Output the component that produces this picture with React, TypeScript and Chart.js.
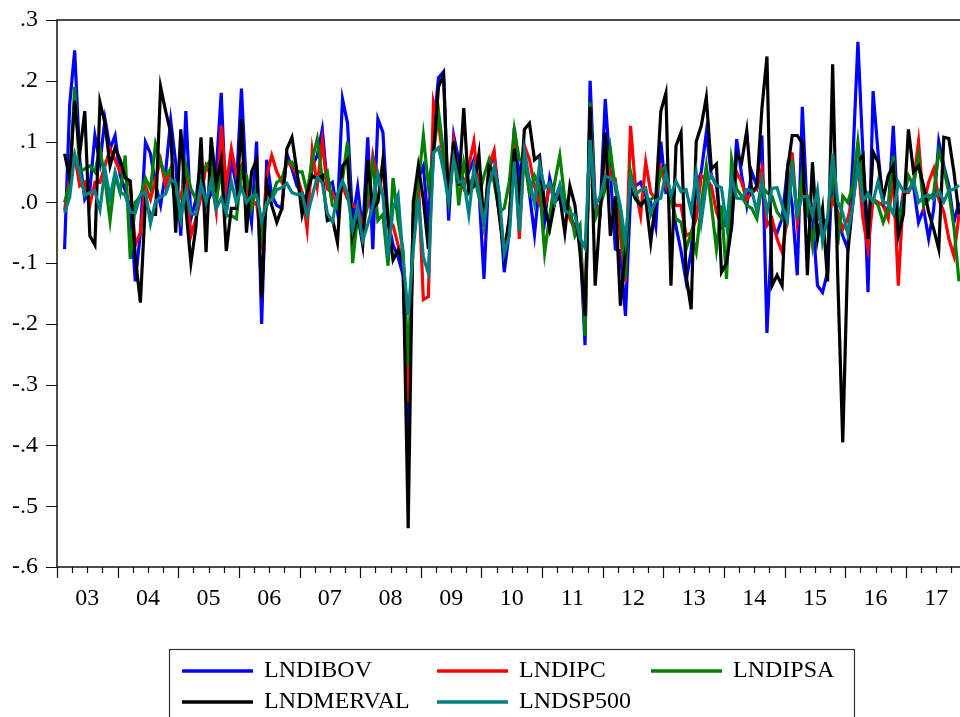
import React, { useEffect, useRef } from "react";
import { Chart, registerables } from "chart.js";

Chart.register(...registerables);

// ---------- data (monthly log-differences, 2003M02 .. 2017M11) ----------
const START_YEAR = 2003;
const FIRST_MONTH = 1; // 0 = January, so first observation is 2003M02
const AXIS_MONTHS = 179; // axis runs from start of 2003M01 to end of 2017M11

const yearLabels = ["03", "04", "05", "06", "07", "08", "09", "10", "11", "12", "13", "14", "15", "16", "17"];
const yTickValues = [-0.6, -0.5, -0.4, -0.3, -0.2, -0.1, 0, 0.1, 0.2, 0.3];

const seriesNames = ["LNDIBOV", "LNDIPC", "LNDIPSA", "LNDMERVAL", "LNDSP500"];
const seriesColors = ["#0000ff", "#ff0000", "#008000", "#000000", "#008080"];

const lndibov = [
  -0.077, 0.16, 0.25, 0.07, 0.005, 0.02, 0.11, 0.065, 0.137, 0.088, 0.11,
  0.044, 0.02, -0.01, -0.13, -0.05, 0.099, 0.08, 0.03, -0.005, 0.05, 0.135, 0.065,
  -0.055, 0.15, -0.027, 0.005, 0.07, -0.005, 0.015, 0.05, 0.18, -0.016, 0.07, 0.027,
  0.187, 0.02, -0.033, 0.1, -0.2, 0.07, 0.011, -0.005, -0.01, 0.08, 0.055, 0.027,
  0.016, -0.005, 0.06, 0.077, 0.12, 0.027, 0.033, -0.016, 0.17, 0.13, -0.03, 0.025,
  -0.05, 0.107, -0.077, 0.137, 0.115, -0.03, -0.07, -0.09, -0.12, -0.38, -0.02, 0.04,
  0.06, -0.04, 0.12, 0.205, 0.215, -0.03, 0.11, 0.07, 0.03, 0.05, 0.07, 0.02,
  -0.126, 0.055, 0.08, 0.01, -0.115, -0.05, 0.123, 0.04, 0.088, 0.015, -0.053, 0.033,
  -0.03, 0.04, 0.005, 0.027, -0.005, -0.022, -0.04, -0.06, -0.235, 0.2, 0.0, -0.016,
  0.17, 0.05, -0.077, -0.08, -0.187, 0.01, 0.027, 0.033, 0.01, 0.0, -0.04, 0.1,
  0.016, 0.016, -0.04, -0.08, -0.13, -0.08, 0.027, 0.05, 0.115, 0.044, 0.027, -0.04,
  -0.027, -0.04, 0.104, 0.044, -0.005, 0.05, 0.027, 0.11, -0.215, -0.04, -0.05, -0.027,
  0.05, -0.005, -0.12, 0.157, -0.022, -0.022, -0.137, -0.148, -0.115, 0.055, -0.027, -0.055,
  -0.077, 0.07, 0.264, 0.08, -0.148, 0.183, 0.08, -0.005, -0.016, 0.126, -0.038, 0.016,
  0.022, 0.027, -0.033, -0.011, -0.06, -0.011, 0.1, 0.06, 0.027, -0.033, 0.0,
];

const lndipc = [
  -0.013, 0.04, 0.077, 0.027, 0.033, -0.005, 0.033, 0.033, 0.06, 0.088, 0.07,
  0.05, 0.044, 0.027, -0.07, -0.05, 0.027, 0.005, 0.038, 0.07, 0.027, 0.055, -0.005,
  0.01, 0.044, -0.055, -0.027, 0.01, 0.06, 0.044, -0.014, 0.126, 0.027, 0.088, 0.044,
  0.06, 0.016, -0.005, 0.0, -0.077, 0.044, 0.077, 0.05, 0.033, 0.066, 0.06, 0.044,
  0.016, -0.044, 0.085, 0.027, 0.1, 0.022, 0.016, -0.005, 0.027, 0.005, -0.005, -0.01,
  -0.038, -0.005, 0.077, 0.038, 0.05, -0.027, -0.038, -0.07, -0.1, -0.33, -0.06, 0.04,
  -0.16, -0.155, 0.165, 0.13, 0.066, 0.027, 0.1, 0.038, 0.022, 0.06, 0.1, 0.016,
  -0.04, 0.06, 0.085, -0.016, -0.08, -0.027, 0.1, -0.06, 0.093, 0.07, 0.027, -0.005,
  -0.011, 0.027, 0.005, 0.016, -0.011, -0.027, -0.044, -0.05, -0.19, 0.15, -0.005, -0.016,
  0.093, 0.044, 0.038, -0.055, -0.13, 0.126, 0.022, -0.022, 0.066, 0.016, 0.005, 0.055,
  0.027, 0.005, -0.005, -0.005, -0.055, -0.05, -0.027, 0.044, 0.038, 0.027, -0.016, -0.038,
  -0.038, -0.005, 0.05, 0.033, 0.005, 0.016, 0.022, 0.055, -0.038, -0.027, -0.06, -0.082,
  -0.027, 0.082, -0.033, 0.027, 0.01, -0.005, -0.022, -0.038, -0.027, 0.005, -0.016, -0.044,
  -0.027, 0.005, 0.066, -0.027, -0.077, 0.005, 0.0, -0.005, -0.027, 0.044, -0.137, 0.016,
  0.016, 0.033, 0.1, -0.005, 0.033, 0.055, 0.005, -0.016, -0.06, -0.088, -0.02,
];

const lndipsa = [
  0.0, 0.03, 0.19, 0.05, 0.055, 0.06, 0.05, 0.088, 0.038, -0.03, 0.044,
  0.016, 0.077, -0.093, 0.0, 0.01, 0.04, 0.022, 0.096, 0.066, 0.044, 0.055, -0.005,
  -0.03, 0.06, 0.022, 0.005, 0.038, 0.06, 0.07, 0.005, 0.05, -0.022, -0.022, -0.027,
  0.055, 0.044, -0.01, 0.027, -0.055, -0.005, 0.01, 0.033, 0.038, 0.066, 0.066, 0.05,
  0.05, 0.016, 0.07, 0.104, 0.038, 0.05, -0.005, -0.01, 0.038, 0.1, -0.1, -0.022,
  -0.055, 0.01, 0.066, -0.03, -0.02, -0.104, 0.04, -0.03, -0.08, -0.27, -0.03, 0.03,
  0.11, 0.027, 0.08, 0.15, 0.08, -0.005, 0.1, -0.005, 0.066, 0.027, 0.044, 0.01,
  0.044, 0.07, 0.033, -0.016, -0.01, 0.033, 0.12, 0.07, 0.07, 0.016, 0.044, 0.027,
  -0.083, -0.022, 0.033, 0.077, 0.005, -0.01, -0.055, -0.038, -0.22, 0.165, -0.027, -0.005,
  0.022, 0.088, 0.022, -0.016, -0.126, 0.05, 0.01, -0.005, 0.005, 0.005, 0.01, 0.05,
  0.06, 0.005, -0.027, -0.033, -0.077, -0.05, -0.082, -0.005, 0.06, -0.005, -0.077, -0.005,
  -0.126, 0.07, 0.022, 0.01, -0.005, -0.01, -0.027, 0.027, 0.016, 0.01, -0.016, -0.027,
  -0.033, 0.07, -0.027, 0.05, -0.005, -0.07, -0.005, -0.027, -0.038, 0.066, -0.07, 0.01,
  0.0, 0.027, 0.1, 0.022, 0.01, 0.005, -0.005, -0.033, -0.01, 0.077, -0.038, 0.005,
  0.044, 0.027, 0.077, -0.005, 0.005, 0.016, 0.085, 0.055, 0.016, -0.04, -0.13,
];

const lndmerval = [
  0.08, 0.04, 0.167, 0.08, 0.15, -0.055, -0.07, 0.165, 0.13, 0.06, 0.09,
  0.07, 0.04, 0.035, -0.09, -0.165, 0.0, -0.02, -0.02, 0.19, 0.15, 0.115, -0.05,
  0.12, -0.01, -0.1, -0.04, 0.107, -0.082, 0.107, 0.03, 0.07, -0.08, -0.01, -0.01,
  0.137, -0.05, 0.05, 0.07, -0.157, 0.033, -0.005, -0.033, -0.01, 0.088, 0.107, 0.05,
  -0.02, 0.016, 0.044, 0.038, 0.044, -0.03, -0.027, -0.066, 0.06, 0.07, -0.055, -0.02,
  -0.07, 0.07, -0.01, 0.0, 0.07, -0.03, -0.095, -0.078, -0.1, -0.536, 0.0, 0.06,
  0.005, -0.077, 0.08, 0.19, 0.21, -0.01, 0.1, 0.027, 0.155, 0.016, 0.027, 0.08,
  -0.04, 0.06, 0.05, -0.02, -0.088, -0.027, 0.088, -0.005, 0.12, 0.13, 0.07, 0.077,
  -0.005, -0.044, 0.0, 0.01, -0.05, 0.027, -0.005, -0.082, -0.187, 0.157, -0.137, -0.016,
  0.115, -0.055, 0.01, -0.17, -0.08, 0.027, 0.005, -0.005, 0.005, -0.066, 0.005, 0.15,
  0.18, -0.137, 0.093, 0.115, -0.12, -0.176, 0.1, 0.126, 0.173, 0.055, 0.063, -0.115,
  -0.1, -0.04, 0.08, 0.066, 0.118, 0.016, 0.027, 0.154, 0.24, -0.137, -0.12, -0.137,
  0.05, 0.11, 0.11, 0.097, -0.12, 0.066, -0.06, -0.01, -0.13, 0.227, -0.12, -0.395,
  -0.082, 0.0, 0.066, 0.077, -0.06, 0.083, 0.066, 0.005, 0.044, 0.06, -0.055, -0.02,
  0.12, 0.05, 0.06, 0.027, -0.016, -0.044, -0.077, 0.107, 0.105, 0.05, -0.02,
];

const lndsp500 = [
  -0.017, 0.008, 0.078, 0.05, 0.011, 0.016, 0.018, -0.012, 0.054, 0.007, 0.05,
  0.017, 0.012, -0.016, -0.017, 0.012, 0.018, -0.035, 0.002, 0.009, 0.014, 0.038, 0.032,
  -0.025, 0.019, -0.019, -0.02, 0.03, 0.0, 0.035, -0.011, 0.007, -0.018, 0.034, -0.001,
  0.025, 0.0, 0.011, 0.012, -0.031, 0.0, 0.005, 0.021, 0.024, 0.031, 0.016, 0.013,
  0.014, -0.022, 0.01, 0.042, 0.032, -0.018, -0.032, 0.013, 0.035, 0.015, -0.045, -0.009,
  -0.063, -0.036, -0.006, 0.047, 0.011, -0.09, -0.01, 0.012, -0.095, -0.185, -0.078, 0.008,
  -0.09, -0.117, 0.082, 0.09, 0.052, 0.0, 0.072, 0.033, 0.035, -0.02, 0.056, 0.018,
  -0.038, 0.029, 0.057, 0.015, -0.085, -0.055, 0.067, -0.048, 0.084, 0.036, -0.002, 0.063,
  0.023, 0.032, -0.001, 0.028, -0.014, -0.018, -0.021, -0.059, -0.075, 0.103, -0.005, 0.009,
  0.043, 0.04, 0.031, -0.007, -0.065, 0.039, 0.013, 0.02, 0.024, -0.02, 0.003, 0.007,
  0.049, 0.011, 0.035, 0.018, 0.021, -0.015, 0.048, -0.032, 0.03, 0.044, 0.028, 0.024,
  -0.036, 0.042, 0.007, 0.006, 0.021, 0.019, -0.015, 0.037, -0.016, 0.023, 0.024, -0.004,
  -0.031, 0.054, -0.017, 0.009, 0.01, -0.021, 0.02, -0.065, -0.026, 0.08, 0.001, -0.018,
  -0.052, -0.004, 0.064, 0.003, 0.015, 0.001, 0.035, -0.001, -0.001, -0.019, 0.033, 0.018,
  0.018, 0.036, 0.0, 0.009, 0.012, 0.005, 0.019, 0.001, 0.019, 0.022, 0.028,
];

const seriesValues = [lndibov, lndipc, lndipsa, lndmerval, lndsp500];

// ---------- helpers ----------
const CANVAS_W = 966;
const CANVAS_H = 717;
const FONT = "'Liberation Serif', 'Times New Roman', Times, serif";

const monthLabel = (k: number) => {
  const m = FIRST_MONTH + k;
  const y = START_YEAR + Math.floor(m / 12);
  return `${y}M${String((m % 12) + 1).padStart(2, "0")}`;
};

const fmtY = (v: number) => {
  const s = Math.abs(v).toFixed(1).replace(/^0/, "");
  return (v < -1e-9 ? "-" : "") + s;
};

const framePlugin = {
  id: "evFrame",
  afterDatasetsDraw(chart: any) {
    const { ctx, chartArea } = chart;
    const xs = chart.scales.x;
    const ys = chart.scales.y;
    ctx.save();
    ctx.strokeStyle = "#111";
    ctx.lineWidth = 1.5;
    ctx.strokeRect(chartArea.left, chartArea.top, chartArea.right - chartArea.left, chartArea.bottom - chartArea.top);
    ctx.lineWidth = 1.2;
    ctx.beginPath();
    for (let m = 0; m <= AXIS_MONTHS; m += 3) {
      const px = Math.round(xs.getPixelForValue(m)) + 0.5;
      const len = m % 12 === 0 ? 11 : 6;
      ctx.moveTo(px, chartArea.bottom);
      ctx.lineTo(px, chartArea.bottom + len);
    }
    for (const v of yTickValues) {
      const py = Math.round(ys.getPixelForValue(v)) + 0.5;
      ctx.moveTo(chartArea.left - 11, py);
      ctx.lineTo(chartArea.left, py);
    }
    ctx.stroke();
    ctx.restore();
  },
};

const legendPlugin = {
  id: "evLegend",
  afterDraw(chart: any) {
    const { ctx } = chart;
    const boxLeft = 169.5;
    const boxTop = 649.5;
    const boxRight = 854.5;
    const colX = [182, 437, 651];
    const rowY = [671, 702];
    ctx.save();
    ctx.strokeStyle = "#333";
    ctx.lineWidth = 1.2;
    ctx.strokeRect(boxLeft, boxTop, boxRight - boxLeft, 120);
    ctx.font = `24px ${FONT}`;
    ctx.textBaseline = "alphabetic";
    ctx.textAlign = "left";
    seriesNames.forEach((name, i) => {
      const r = Math.floor(i / 3);
      const c = i % 3;
      const x = colX[c];
      const y = rowY[r];
      ctx.strokeStyle = seriesColors[i];
      ctx.lineWidth = 3.5;
      ctx.beginPath();
      ctx.moveTo(x, y);
      ctx.lineTo(x + 71, y);
      ctx.stroke();
      ctx.fillStyle = "#000";
      ctx.fillText(name, x + 82, y + 6);
    });
    ctx.restore();
  },
};

export default function App() {
  const canvasRef = useRef<HTMLCanvasElement | null>(null);

  useEffect(() => {
    const canvas = canvasRef.current;
    if (!canvas) return;
    Chart.defaults.font.family = FONT;
    Chart.defaults.color = "#000";

    const datasets = seriesNames
      .map((name, i) => ({
        label: name,
        data: seriesValues[i].map((v, k) => ({ x: FIRST_MONTH + k + 0.5, y: v, t: monthLabel(k) })),
        borderColor: seriesColors[i],
        backgroundColor: seriesColors[i],
        borderWidth: 3.2,
        pointRadius: 0,
        tension: 0,
        fill: false,
      }))
      .reverse(); // first series drawn first (underneath), last on top

    const chart = new Chart(canvas, {
      type: "line",
      data: { datasets },
      options: {
        responsive: false,
        animation: false,
        devicePixelRatio: 1,
        layout: { padding: { top: 20, right: CANVAS_W - 961.5, left: 0, bottom: 0 } },
        plugins: { legend: { display: false }, tooltip: { enabled: false } },
        scales: {
          x: {
            type: "linear",
            min: 0,
            max: AXIS_MONTHS,
            grid: { display: false, drawTicks: false },
            border: { display: false },
            afterBuildTicks: (s: any) => {
              s.ticks = yearLabels.map((_, k) => ({ value: 6 + 12 * k }));
            },
            afterFit: (s: any) => {
              s.height = 150;
              s.paddingLeft = 0;
              s.paddingRight = 0;
            },
            ticks: {
              autoSkip: false,
              maxRotation: 0,
              padding: 17,
              font: { size: 24 },
              color: "#000",
              callback: (v: any) => yearLabels[Math.round((Number(v) - 6) / 12)] ?? "",
            },
          },
          y: {
            type: "linear",
            min: -0.6,
            max: 0.3,
            grid: { display: false, drawTicks: false },
            border: { display: false },
            afterBuildTicks: (s: any) => {
              s.ticks = yTickValues.map((v) => ({ value: v }));
            },
            afterFit: (s: any) => {
              s.width = 57;
              s.paddingTop = 0;
              s.paddingBottom = 0;
            },
            ticks: {
              padding: 19,
              font: { size: 24 },
              color: "#000",
              callback: (v: any) => fmtY(Number(v)),
            },
          },
        },
      } as any,
      plugins: [framePlugin, legendPlugin],
    });
    return () => chart.destroy();
  }, []);

  return (
    <div style={{ position: "absolute", left: 0, top: 0, width: 960, height: 717, overflow: "hidden", background: "#fff" }}>
      <canvas ref={canvasRef} width={CANVAS_W} height={CANVAS_H} style={{ width: CANVAS_W, height: CANVAS_H, display: "block" }} />
    </div>
  );
}
